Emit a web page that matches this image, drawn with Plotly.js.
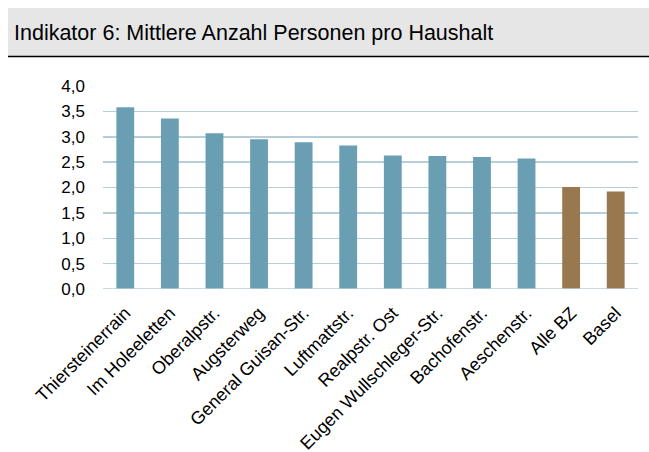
<!DOCTYPE html>
<html>
<head>
<meta charset="utf-8">
<script src="https://cdn.plot.ly/plotly-3.0.1.min.js"></script>
<style>
  html, body { margin: 0; padding: 0; background: #ffffff; }
  #chart { width: 649px; height: 452px; }
</style>
</head>
<body>
<div id="chart"></div>
<script>
const chartTitle = "Indikator 6: Mittlere Anzahl Personen pro Haushalt";
const categories = ["Thiersteinerrain", "Im Holeeletten", "Oberalpstr.", "Augsterweg",
  "General Guisan-Str.", "Luftmattstr.", "Realpstr. Ost", "Eugen Wullschleger-Str.",
  "Bachofenstr.", "Aeschenstr.", "Alle BZ", "Basel"];
const values = [3.58, 3.36, 3.07, 2.95, 2.89, 2.83, 2.63, 2.62, 2.60, 2.57, 2.01, 1.92];
const referenceAreas = ["Alle BZ", "Basel"];
const yTicks = [0, 0.5, 1, 1.5, 2, 2.5, 3, 3.5, 4];

const W = 649, H = 452;
const M = {l: 103, r: 11, t: 86, b: 163};
const pw = W - M.l - M.r, ph = H - M.t - M.b;
const px = p => (p - M.l) / pw;
const py = p => (H - M.b - p) / ph;

const teal = "#6A9FB3", brown = "#9A784F";
const colors = categories.map(c => referenceAreas.includes(c) ? brown : teal);

const trace = {
  type: "bar",
  x: categories,
  y: values,
  marker: {color: colors, line: {width: 0}},
  hoverinfo: "skip"
};

const layout = {
  width: W, height: H,
  margin: M,
  paper_bgcolor: "#ffffff",
  plot_bgcolor: "#ffffff",
  separators: ",.",
  bargap: 0.6,
  showlegend: false,
  font: {family: "Liberation Sans, Arial, sans-serif", size: 16, color: "#000000"},
  title: {
    text: chartTitle,
    xref: "container", yref: "container",
    x: 14 / W, xanchor: "left",
    y: 1 - 32 / H, yanchor: "middle",
    font: {family: "Liberation Sans, Arial, sans-serif", size: 21.5, color: "#000000"}
  },
  xaxis: {
    type: "category",
    tickangle: -45,
    showgrid: false,
    showline: false,
    ticks: "",
    ticklabelstandoff: 9,
    tickfont: {size: 18},
    fixedrange: true
  },
  yaxis: {
    range: [0, 4],
    tickvals: yTicks,
    tickformat: ".1f",
    showgrid: true,
    gridcolor: "#B7CED8",
    gridwidth: 1.5,
    zeroline: false,
    showline: false,
    ticks: "",
    ticklabelstandoff: 17,
    tickfont: {size: 17},
    fixedrange: true
  },
  shapes: [
    {type: "rect", xref: "paper", yref: "paper", layer: "below",
     x0: px(8), x1: px(W + 2), y0: py(56), y1: py(8),
     fillcolor: "#E6E6E6", line: {width: 0}},
    {type: "line", xref: "paper", yref: "paper",
     x0: px(8), x1: px(W + 2), y0: py(56.5), y1: py(56.5),
     line: {color: "#000000", width: 1.5}},
    {type: "line", xref: "paper", yref: "y", layer: "above",
     x0: 0, x1: 1, y0: 0, y1: 0,
     line: {color: "#B7CED8", width: 1.5}}
  ]
};

Plotly.newPlot("chart", [trace], layout, {displayModeBar: false, staticPlot: true});
</script>
</body>
</html>
